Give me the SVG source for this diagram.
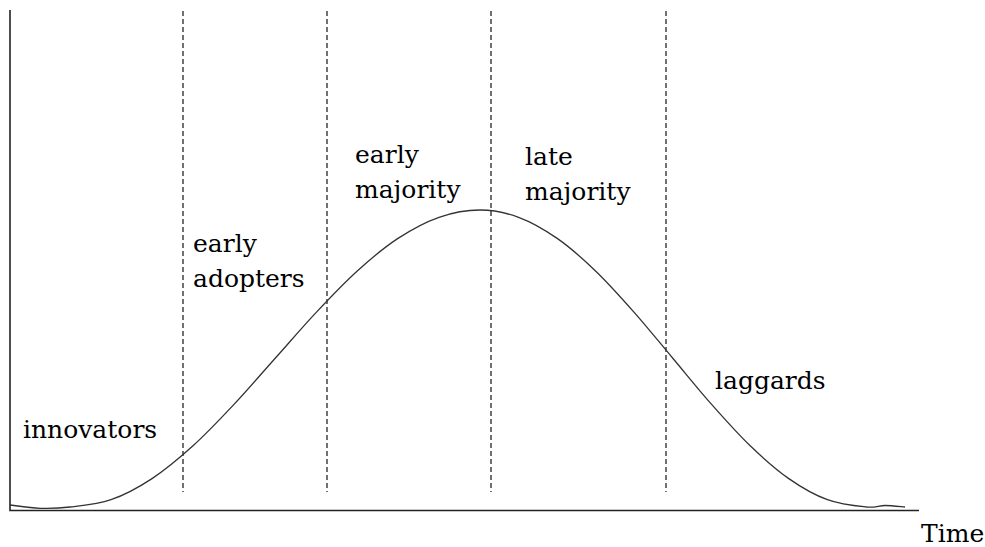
<svg xmlns="http://www.w3.org/2000/svg" width="985" height="547" viewBox="0 0 985 547">
<style>
.lbl{font-family:"DejaVu Serif","Liberation Serif",serif;font-size:25px;fill:#000;}
.axis{stroke:#222;stroke-width:1.6;fill:none;}
.div{stroke:#111;stroke-width:1.2;stroke-dasharray:5 3;fill:none;}
.curve{stroke:#333;stroke-width:1.3;fill:none;}
</style>
<rect width="985" height="547" fill="#fff"/>
<g id="axes">
<path class="axis" d="M10 10 V510.5 H919"/>
</g>
<g id="connectors">
<line class="div" x1="183" y1="11" x2="183" y2="492"/>
<line class="div" x1="327" y1="11" x2="327" y2="492"/>
<line class="div" x1="491" y1="11" x2="491" y2="492"/>
<line class="div" x1="666" y1="11" x2="666" y2="492"/>
</g>
<g id="curve">
<path class="curve" d="M10 505 C15 505.55 30 507.97 40 508.3 C50 508.63 58.17 508.43 70 507 C81.83 505.57 97.33 504.43 111 499.7 C124.67 494.97 138.33 487.58 152 478.6 C165.67 469.62 179.33 458.17 193 445.8 C206.67 433.43 220.33 418.95 234 404.4 C247.67 389.85 261.33 373.8 275 358.5 C288.67 343.2 302.33 327.15 316 312.6 C329.67 298.05 343.33 283.57 357 271.2 C370.67 258.83 384.33 247.38 398 238.4 C411.67 229.42 425.33 222.03 439 217.3 C452.67 212.57 466.73 210 480 210 C493.27 210 505.73 212.57 518.6 217.3 C531.47 222.03 544.33 229.42 557.2 238.4 C570.07 247.38 582.93 258.83 595.8 271.2 C608.67 283.57 621.53 298.05 634.4 312.6 C647.27 327.15 660.13 343.2 673 358.5 C685.87 373.8 698.73 389.85 711.6 404.4 C724.47 418.95 737.33 433.43 750.2 445.8 C763.07 458.17 775.93 469.62 788.8 478.6 C801.67 487.58 814.53 494.97 827.4 499.7 C840.27 504.43 856.4 506.03 866 507 C875.6 507.97 878.5 505.5 885 505.5 C891.5 505.5 901.67 506.75 905 507"/>
</g>
<g id="innovators"><text class="lbl" x="23" y="438">innovators</text></g>
<g id="early-adopters"><text class="lbl" x="193" y="252">early</text><text class="lbl" x="193" y="287">adopters</text></g>
<g id="early-majority"><text class="lbl" x="355" y="163">early</text><text class="lbl" x="355" y="198">majority</text></g>
<g id="late-majority"><text class="lbl" x="525" y="165">late</text><text class="lbl" x="525" y="200">majority</text></g>
<g id="laggards"><text class="lbl" x="715" y="389">laggards</text></g>
<g id="time"><text class="lbl" x="921" y="542">Time</text></g>
</svg>
